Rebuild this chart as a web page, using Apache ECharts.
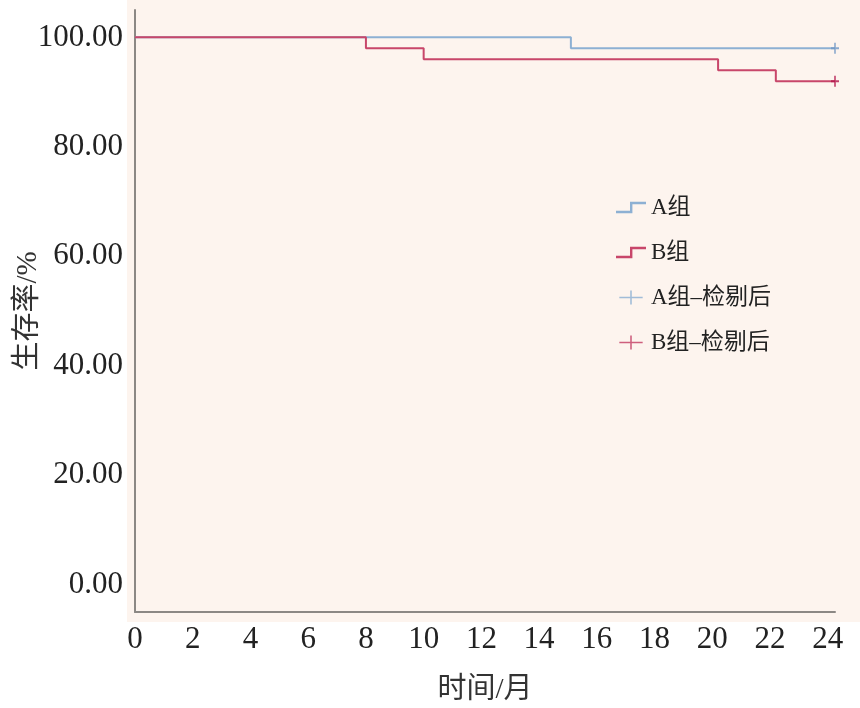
<!DOCTYPE html>
<html><head><meta charset="utf-8">
<script src="https://cdn.jsdelivr.net/npm/echarts@6/dist/echarts.min.js"></script>
<style>html,body{margin:0;padding:0;background:#fff;}#c{width:860px;height:708px;}</style>
</head><body><div id="c"></div>
<script>
var groupA = [[0,100],[15.1,98],[24.25,98]];
var groupB = [[0,100],[8,98],[10,96],[20.2,94],[22.2,92],[24.25,92]];
var censorA = [[24.25,98]];
var censorB = [[24.25,92]];
var seriesNames = ['A组','B组','A组–检剔后','B组–检剔后'];
var xTicks = [0,2,4,6,8,10,12,14,16,18,20,22,24];
var yTicks = [0,20,40,60,80,100];

var serif = '"Liberation Serif","DejaVu Serif",serif';
var cjk = '"Liberation Serif","Noto Sans CJK SC",serif';
var blue = '#8db0d3', red = '#c8466a';
var stepIcon = 'path://M0,9 L14,9 L14,0 L30,0 L30,2.4 L16.4,2.4 L16.4,11.4 L0,11.4 Z';
var plusIcon = 'path://M0,8 L14,8 L14,0 L16,0 L16,8 L30,8 L30,10 L16,10 L16,18 L14,18 L14,10 L0,10 Z';
var censorIcon = 'path://M4,0 L6,0 L6,4.5 L10,4.5 L10,6.5 L6,6.5 L6,11 L4,11 L4,6.5 L0,6.5 L0,4.5 L4,4.5 Z';

var chart = echarts.init(document.getElementById('c'));
chart.setOption({
  animation: false,
  backgroundColor: '#ffffff',
  graphic: [{type:'rect', z:-10, silent:true, shape:{x:127,y:0,width:733,height:622}, style:{fill:'#fdf4ee'}}],
  grid: {left:135, right:25, top:10, bottom:96, containLabel:false, outerBoundsMode:'none'},
  legend: {
    left: 611, top: 191, orient: 'vertical', itemGap: 22, itemWidth: 30, itemHeight: 14,
    textStyle: {fontFamily: cjk, fontSize: 23, color: '#222'},
    data: [
      {name: seriesNames[0], icon: stepIcon, itemStyle:{color: blue}},
      {name: seriesNames[1], icon: stepIcon, itemStyle:{color: red}},
      {name: seriesNames[2], icon: plusIcon, itemStyle:{color: '#8aaed2'}},
      {name: seriesNames[3], icon: plusIcon, itemStyle:{color: '#c23a60'}}
    ]
  },
  xAxis: {
    type: 'value', min: 0, max: 24.25, interval: 2,
    name: '时间/月', nameLocation: 'middle', nameGap: 64, nameMoveOverlap: false,
    nameTextStyle: {fontFamily: cjk, fontSize: 29, color: '#333'},
    axisLine: {show:true, onZero:false, lineStyle:{color:'#8c8884', width:2}},
    axisTick: {show:false}, splitLine: {show:false},
    axisLabel: {fontFamily: serif, fontSize: 31, color: '#222', margin: 12,
      formatter: function(v){ return xTicks.indexOf(v) >= 0 ? String(v) : ''; }, showMaxLabel: false}
  },
  yAxis: {
    type: 'value', min: -5, max: 105, interval: 5,
    name: '生存率/%', nameLocation: 'middle', nameGap: 92, nameRotate: 90, nameMoveOverlap: false,
    nameTextStyle: {fontFamily: cjk, fontSize: 29, color: '#333'},
    axisLine: {show:true, onZero:false, lineStyle:{color:'#8c8884', width:2}},
    axisTick: {show:false}, splitLine: {show:false},
    axisLabel: {fontFamily: serif, fontSize: 31, color: '#222', margin: 12,
      formatter: function(v){ return yTicks.indexOf(v) >= 0 ? v.toFixed(2) : ''; }}
  },
  series: [
    {name: seriesNames[0], type:'line', step:'end', data: groupA, symbol:'none', lineStyle:{color: blue, width:2}, itemStyle:{color: blue}, z:3},
    {name: seriesNames[1], type:'line', step:'end', data: groupB, symbol:'none', lineStyle:{color: red, width:2}, itemStyle:{color: red}, z:3},
    {name: seriesNames[2], type:'scatter', data: censorA, symbol: censorIcon, symbolSize:[8,11], itemStyle:{color:'#6f96c4'}, z:4},
    {name: seriesNames[3], type:'scatter', data: censorB, symbol: censorIcon, symbolSize:[8,11], itemStyle:{color:'#b3144a'}, z:4}
  ]
});
</script></body></html>
